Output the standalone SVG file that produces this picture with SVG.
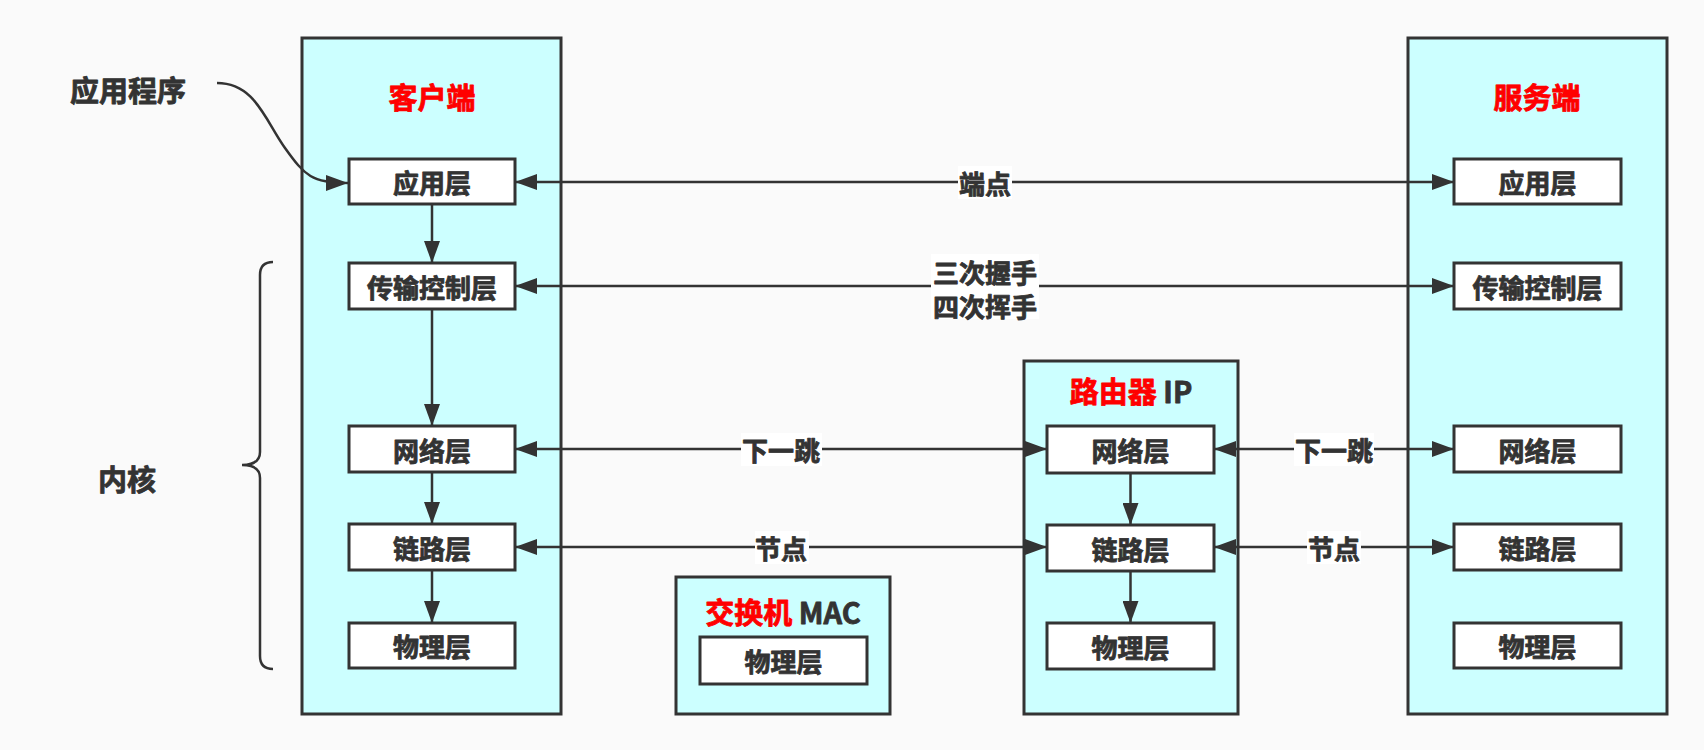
<svg xmlns="http://www.w3.org/2000/svg" width="1704" height="750" viewBox="0 0 1704 750">
  <style>
    .bg { fill: #fafafa; }
    .container { fill: #ccffff; stroke: #333333; stroke-width: 3; }
    .layer { fill: #ffffff; stroke: #333333; stroke-width: 3; }
    text { font-family: "Noto Sans CJK SC", "Noto Sans", sans-serif; font-weight: bold; fill: #333333; stroke: #333333; stroke-width: 0.8; stroke-linejoin: round; text-anchor: middle; dominant-baseline: central; }
    .title { font-size: 29px; }
    .red { fill: #ff0000; stroke: #ff0000; }
    .lbl { font-size: 26px; }
    .side { font-size: 29px; }
    .wire { fill: none; stroke: #333333; stroke-width: 2.5; }
    .tag { fill: #ffffff; }
  </style>
  <defs>
    <marker id="arrow" markerUnits="userSpaceOnUse" markerWidth="22" markerHeight="16" viewBox="0 0 22 16" refX="22" refY="8" orient="auto-start-reverse">
      <path d="M0,0 L22,8 L0,16 z" fill="#333333"/>
    </marker>
  </defs>

  <rect class="bg" x="0" y="0" width="1704" height="750"/>

  <!-- side captions -->
  <g id="app-program">
    <text class="side" x="128" y="89">应用程序</text>
  </g>
  <g id="kernel">
    <path class="wire" d="M273,262 Q260,262 260,275 L260,452 Q260,465 242,465 Q260,465 260,478 L260,656 Q260,669 273,669"/>
    <text class="side" x="127" y="478">内核</text>
  </g>

  <!-- client host -->
  <g id="client">
    <rect class="container" x="302" y="38" width="259" height="676"/>
    <text class="title red" x="432" y="96">客户端</text>
  </g>
  <g id="client-app"><rect class="layer" x="349" y="159" width="166" height="45"/><text class="lbl" x="432" y="181.5">应用层</text></g>
  <g id="client-transport"><rect class="layer" x="349" y="263" width="166" height="46"/><text class="lbl" x="432" y="286">传输控制层</text></g>
  <g id="client-network"><rect class="layer" x="349" y="426" width="166" height="46"/><text class="lbl" x="432" y="449">网络层</text></g>
  <g id="client-link"><rect class="layer" x="349" y="524" width="166" height="46"/><text class="lbl" x="432" y="547">链路层</text></g>
  <g id="client-physical"><rect class="layer" x="349" y="623" width="166" height="45"/><text class="lbl" x="432" y="645.5">物理层</text></g>

  <!-- switch -->
  <g id="switch">
    <rect class="container" x="676" y="577" width="214" height="137"/>
    <text class="title" x="783" y="611"><tspan class="red">交换机</tspan> MAC</text>
  </g>
  <g id="switch-physical"><rect class="layer" x="700" y="637" width="167" height="47"/><text class="lbl" x="783.5" y="660.5">物理层</text></g>

  <!-- router -->
  <g id="router">
    <rect class="container" x="1024" y="361" width="214" height="353"/>
    <text class="title" x="1131" y="390"><tspan class="red">路由器</tspan> IP</text>
  </g>
  <g id="router-network"><rect class="layer" x="1047" y="426" width="167" height="47"/><text class="lbl" x="1130.5" y="449.5">网络层</text></g>
  <g id="router-link"><rect class="layer" x="1047" y="525" width="167" height="46"/><text class="lbl" x="1130.5" y="548">链路层</text></g>
  <g id="router-physical"><rect class="layer" x="1047" y="623" width="167" height="46"/><text class="lbl" x="1130.5" y="646">物理层</text></g>

  <!-- server host -->
  <g id="server">
    <rect class="container" x="1408" y="38" width="259" height="676"/>
    <text class="title red" x="1537" y="96">服务端</text>
  </g>
  <g id="server-app"><rect class="layer" x="1454" y="159" width="167" height="45"/><text class="lbl" x="1537.5" y="181.5">应用层</text></g>
  <g id="server-transport"><rect class="layer" x="1454" y="263" width="167" height="46"/><text class="lbl" x="1537.5" y="286">传输控制层</text></g>
  <g id="server-network"><rect class="layer" x="1454" y="426" width="167" height="46"/><text class="lbl" x="1537.5" y="449">网络层</text></g>
  <g id="server-link"><rect class="layer" x="1454" y="524" width="167" height="46"/><text class="lbl" x="1537.5" y="547">链路层</text></g>
  <g id="server-physical"><rect class="layer" x="1454" y="623" width="167" height="45"/><text class="lbl" x="1537.5" y="645.5">物理层</text></g>

  <!-- connectors -->
  <g id="connectors">
    <path class="wire" d="M217,83 C255,83 265,120 285,148 S312,183 348,183" marker-end="url(#arrow)"/>

    <line class="wire" x1="432" y1="204" x2="432" y2="263" marker-end="url(#arrow)"/>
    <line class="wire" x1="432" y1="309" x2="432" y2="426" marker-end="url(#arrow)"/>
    <line class="wire" x1="432" y1="472" x2="432" y2="524" marker-end="url(#arrow)"/>
    <line class="wire" x1="432" y1="570" x2="432" y2="623" marker-end="url(#arrow)"/>

    <line class="wire" x1="1130.5" y1="473" x2="1130.5" y2="525" marker-end="url(#arrow)"/>
    <line class="wire" x1="1130.5" y1="571" x2="1130.5" y2="623" marker-end="url(#arrow)"/>

    <line class="wire" x1="515" y1="182" x2="1454" y2="182" marker-start="url(#arrow)" marker-end="url(#arrow)"/>
    <line class="wire" x1="515" y1="286" x2="1454" y2="286" marker-start="url(#arrow)" marker-end="url(#arrow)"/>
    <line class="wire" x1="515" y1="449" x2="1047" y2="449" marker-start="url(#arrow)" marker-end="url(#arrow)"/>
    <line class="wire" x1="515" y1="547" x2="1047" y2="547" marker-start="url(#arrow)" marker-end="url(#arrow)"/>
    <line class="wire" x1="1214" y1="449" x2="1454" y2="449" marker-start="url(#arrow)" marker-end="url(#arrow)"/>
    <line class="wire" x1="1214" y1="547" x2="1454" y2="547" marker-start="url(#arrow)" marker-end="url(#arrow)"/>

    <rect class="tag" x="958" y="166" width="54" height="33"/>
    <text class="lbl" x="985" y="182">端点</text>

    <rect class="tag" x="931" y="254" width="108" height="65"/>
    <text class="lbl" x="985" y="271">三次握手</text>
    <text class="lbl" x="985" y="305">四次挥手</text>

    <rect class="tag" x="741" y="433" width="81" height="33"/>
    <text class="lbl" x="781" y="449">下一跳</text>
    <rect class="tag" x="755" y="531" width="54" height="33"/>
    <text class="lbl" x="781" y="547">节点</text>

    <rect class="tag" x="1294" y="433" width="80" height="33"/>
    <text class="lbl" x="1334" y="449">下一跳</text>
    <rect class="tag" x="1307" y="531" width="54" height="33"/>
    <text class="lbl" x="1334" y="547">节点</text>
  </g>
</svg>
